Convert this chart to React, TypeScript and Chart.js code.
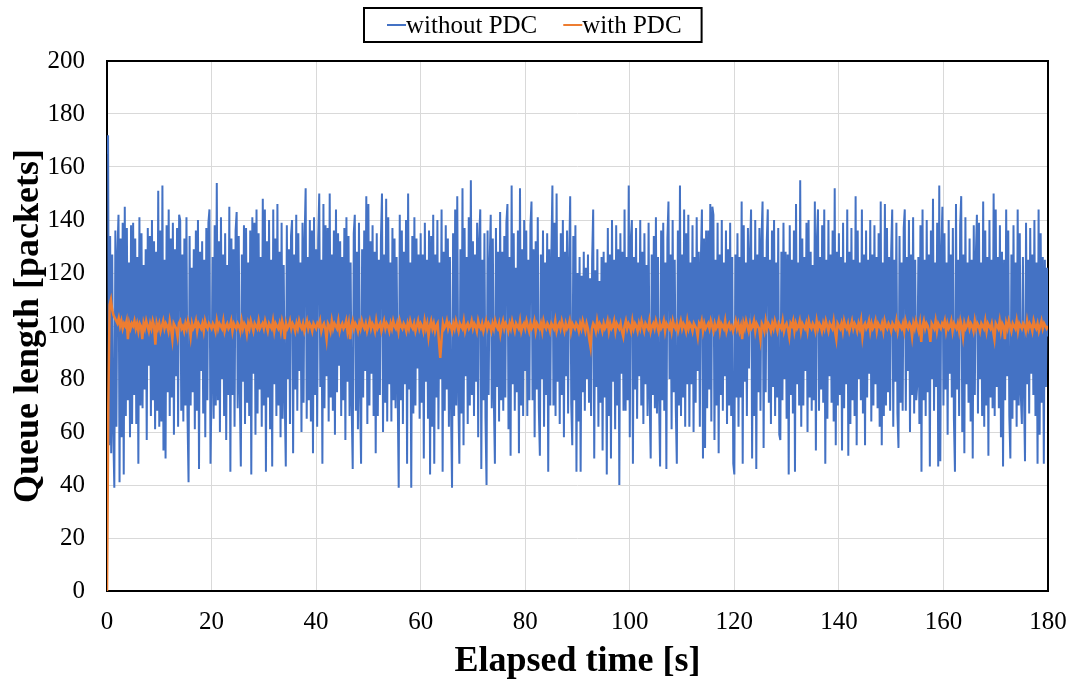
import { useEffect, useRef } from "react";
import { Chart, registerables } from "chart.js";

Chart.register(...registerables);

const FONT = "'Liberation Serif', 'Times New Roman', serif";

// Elapsed time span of the recording [s]
const DURATION = 180;
const X_TICKS = [0, 20, 40, 60, 80, 100, 120, 140, 160, 180];
const Y_TICKS = [0, 20, 40, 60, 80, 100, 120, 140, 160, 180, 200];
const SERIES_NAMES = ["without PDC", "with PDC"];
const SERIES_COLORS = ["#4472C4", "#ED7D31"];

// Queue length without PDC [packets], sampled evenly over 0..180 s
const withoutPDC = [
  165,172,55,134,52,127,60,39,136,62,128,142,41,133,58,139,44,145,66,137,72,124,58,138,63,
  139,74,133,63,126,48,141,70,135,69,123,76,129,57,137,85,134,66,140,72,132,61,128,68,151,
  62,136,64,153,53,125,50,138,75,144,66,133,73,139,59,129,81,137,62,142,140,68,127,64,133,
  70,141,66,41,134,70,122,75,129,61,136,68,140,46,128,83,132,67,125,58,137,72,139,144,48,
  77,126,65,138,70,154,72,132,60,141,80,127,66,135,57,123,74,145,45,133,74,129,62,136,143,
  69,134,75,47,127,79,138,63,137,71,124,66,136,44,141,82,139,59,144,67,135,76,126,62,148,
  70,144,45,132,73,140,61,125,47,144,78,133,66,146,70,128,58,139,65,123,72,47,138,80,129,
  63,134,140,52,127,76,142,68,135,83,124,60,139,71,133,152,65,126,72,140,64,136,52,141,74,
  129,62,133,150,77,125,48,146,69,138,81,137,64,150,73,127,68,136,59,144,75,135,85,132,66,
  126,72,137,57,141,79,134,66,124,70,46,135,142,68,128,61,139,75,48,129,73,136,83,149,63,
  146,70,132,82,138,66,128,52,135,66,125,74,133,150,60,127,71,148,64,141,78,124,64,137,72,
  133,69,126,75,39,142,72,136,63,128,78,140,48,150,76,124,39,134,67,141,70,133,84,127,65,
  135,71,127,50,139,79,125,65,136,44,134,62,142,48,127,73,140,61,124,80,144,45,128,68,138,
  76,133,62,126,70,39,135,66,144,70,149,74,48,129,67,152,55,137,81,126,63,141,70,155,74,
  132,66,127,79,139,58,133,144,46,125,72,135,65,40,136,74,124,142,69,133,72,48,137,77,128,
  64,143,72,128,68,134,73,139,146,61,126,51,153,78,135,68,122,75,136,52,152,70,129,66,140,
  83,136,66,125,72,138,147,72,129,58,132,76,141,69,51,127,80,136,62,124,74,135,45,129,70,
  127,153,70,139,66,150,79,126,63,135,74,140,58,128,81,136,67,124,149,71,55,134,72,138,45,
  120,64,126,45,119,75,128,68,122,80,127,71,118,66,125,144,50,121,77,129,62,117,71,126,53,
  128,73,124,44,137,66,127,50,140,79,125,61,138,70,129,40,135,82,128,68,144,68,126,72,153,
  58,133,140,48,126,76,137,65,124,81,140,70,128,63,135,78,123,66,139,73,50,127,74,134,69,
  141,67,126,72,47,136,72,139,68,124,46,133,147,80,127,61,140,75,125,69,48,136,70,153,66,
  127,73,144,62,135,78,142,62,124,78,138,60,126,71,141,83,128,62,125,144,50,133,54,136,69,
  136,76,146,64,145,142,57,125,70,139,52,127,74,140,68,124,81,136,63,129,70,139,66,126,48,
  44,127,73,135,62,126,73,147,48,138,79,124,66,137,84,128,144,50,125,66,140,46,127,75,137,
  68,133,147,54,126,75,132,144,71,125,63,136,77,140,66,124,73,137,59,57,128,72,139,80,128,
  65,127,44,138,74,125,67,136,45,146,78,124,70,155,62,133,70,126,83,139,60,140,73,128,68,
  123,72,147,53,133,144,68,126,76,138,71,144,48,125,65,140,81,127,71,136,64,152,55,128,70,
  135,74,126,53,139,69,124,78,144,51,128,63,137,72,125,66,149,55,136,80,124,72,144,67,127,
  55,136,73,125,82,140,64,127,70,138,78,126,69,135,62,147,55,124,66,146,70,137,75,126,68,
  128,144,62,125,79,139,67,54,134,71,124,68,137,144,68,126,83,140,60,127,74,141,67,125,72,
  78,126,63,138,45,144,72,125,66,140,75,127,47,136,80,148,68,124,77,139,47,153,49,128,145,
  70,135,76,124,59,140,82,127,73,137,65,45,146,76,125,66,138,149,60,127,52,141,78,124,71,
  133,64,125,50,138,74,127,142,67,139,80,124,66,147,62,136,70,126,51,140,73,125,69,150,66,
  144,77,126,69,138,58,128,47,125,72,144,81,136,66,50,127,65,138,72,124,62,144,70,135,74,
  63,126,75,49,139,78,125,67,137,82,127,74,140,66,124,48,144,59,135,71,126,48,125,77,122,
  96,
];

// Queue length with PDC [packets], sampled evenly over 0..180 s
const withPDC = [
  0,70,108,110,106,104,103,102,101,103,100,102,99,101,100,102,95,101,99,101,
  100,102,99,101,98,101,100,95,101,99,102,100,98,101,99,102,100,93,101,99,
  101,98,100,102,99,101,100,98,102,99,95,101,100,99,96,101,102,99,100,98,
  101,99,102,100,96,101,99,100,102,98,101,100,99,101,98,102,100,99,101,100,
  99,101,100,98,102,99,101,100,99,102,98,100,101,99,100,102,98,101,100,99,
  101,100,98,102,99,101,100,97,101,99,102,100,98,101,100,99,102,99,100,101,
  99,102,100,98,101,100,99,102,98,101,100,99,101,98,102,100,95,101,99,100,
  102,99,101,100,98,101,99,102,100,99,101,98,100,102,99,101,100,98,101,100,
  99,101,100,102,98,100,101,99,95,101,100,98,102,99,101,100,99,102,98,100,
  101,99,100,102,98,101,95,100,102,99,101,100,98,101,99,102,100,99,101,98,
  100,102,99,101,100,98,102,99,100,101,98,100,102,99,101,100,98,101,99,102,
  100,99,101,98,102,100,99,101,100,98,101,99,102,100,99,101,98,100,102,99,
  101,100,98,102,99,101,96,100,102,99,101,98,100,101,94,88,95,101,99,100,
  102,99,101,100,98,101,99,102,100,98,101,100,99,102,98,100,101,99,100,102,
  99,101,100,98,102,100,99,101,98,100,102,99,101,100,98,101,99,102,100,99,
  101,97,100,102,99,101,100,98,101,99,102,100,98,101,100,99,102,98,100,101,
  99,102,100,98,101,99,100,102,98,101,100,99,101,98,102,100,99,101,100,98,
  101,100,99,102,98,100,101,99,102,100,98,101,99,100,102,98,101,100,99,101,
  100,98,101,99,102,100,98,101,99,95,92,99,101,100,98,102,99,101,100,98,
  101,99,100,102,98,101,99,100,102,98,101,100,99,101,98,96,100,102,99,101,
  100,98,102,99,101,100,98,101,99,102,100,98,101,100,99,102,98,100,101,99,
  102,100,98,101,99,100,102,98,101,100,99,101,98,102,100,99,101,98,100,102,
  99,101,100,98,102,99,101,100,98,101,100,99,96,101,100,102,98,101,99,100,
  101,99,102,100,98,101,99,100,102,98,101,100,99,102,98,100,101,99,100,98,
  100,102,99,101,98,100,95,101,99,102,100,98,101,99,100,102,98,101,100,99,
  95,101,100,98,102,99,101,100,98,101,99,102,100,98,101,100,99,102,98,100,
  101,99,96,101,100,102,98,101,99,100,102,98,101,100,99,101,98,102,100,99,
  101,100,98,102,99,101,100,98,101,99,102,100,98,101,100,99,102,98,95,101,
  100,99,101,98,102,100,99,101,98,100,102,99,101,100,98,101,99,102,96,100,
  101,99,100,102,98,101,99,100,102,98,101,100,99,101,98,102,100,99,101,100,
  98,101,100,99,102,98,101,100,99,101,98,102,100,99,101,100,96,101,99,102,
  100,98,101,94,100,102,99,101,100,98,94,101,100,99,102,98,101,100,99,101,
  100,102,98,101,99,100,102,98,101,100,99,101,98,102,100,96,101,99,100,102,
  99,101,100,98,102,99,101,100,98,101,100,99,102,98,101,100,99,101,98,95,
  101,100,99,102,98,101,100,95,101,99,102,100,98,101,100,99,102,98,101,100,
  99,101,100,98,102,99,101,100,98,102,100,99,101,98,100,102,99,101,100,99,
  100,
];

function toPoints(values: number[]) {
  const n = values.length;
  return values.map((y, i) => ({ x: (i * DURATION) / (n - 1), y }));
}

const plotFrame = {
  id: "plotFrame",
  beforeDatasetsDraw(chart: any) {
    const { ctx, chartArea } = chart;
    ctx.save();
    ctx.strokeStyle = "#000000";
    ctx.lineWidth = 2;
    ctx.strokeRect(chartArea.left, chartArea.top, chartArea.right - chartArea.left, chartArea.bottom - chartArea.top);
    ctx.restore();
  },
};

const boxedLegend = {
  id: "boxedLegend",
  afterDraw(chart: any) {
    const ctx = chart.ctx;
    ctx.save();
    ctx.font = `25px ${FONT}`;
    const left = 364;
    const top = 8;
    const height = 34;
    const sampleW = 19;
    const padLeft = 23;
    const itemGap = 26;
    const padRight = 20;
    const cy = top + height / 2;
    let x = left + padLeft;
    const items = chart.data.datasets.map((ds: any) => ({ label: ds.label, color: ds.borderColor }));
    items.forEach((it: any, i: number) => {
      ctx.strokeStyle = it.color;
      ctx.lineWidth = 2;
      ctx.beginPath();
      ctx.moveTo(x, cy);
      ctx.lineTo(x + sampleW, cy);
      ctx.stroke();
      x += sampleW;
      ctx.fillStyle = "#000000";
      ctx.textBaseline = "middle";
      ctx.textAlign = "left";
      ctx.fillText(it.label, x, cy + 1);
      x += ctx.measureText(it.label).width;
      if (i < items.length - 1) x += itemGap;
    });
    const right = x + padRight;
    ctx.strokeStyle = "#000000";
    ctx.lineWidth = 2;
    ctx.strokeRect(left, top, right - left, height);
    ctx.restore();
  },
};

export default function App() {
  const canvasRef = useRef<HTMLCanvasElement | null>(null);

  useEffect(() => {
    if (!canvasRef.current) return;
    const chart = new Chart(canvasRef.current, {
      type: "line",
      data: {
        datasets: [
          {
            label: SERIES_NAMES[0],
            data: toPoints(withoutPDC),
            borderColor: SERIES_COLORS[0],
            backgroundColor: SERIES_COLORS[0],
            borderWidth: 2,
            pointRadius: 0,
            tension: 0,
            order: 2,
          },
          {
            label: SERIES_NAMES[1],
            data: toPoints(withPDC),
            borderColor: SERIES_COLORS[1],
            backgroundColor: SERIES_COLORS[1],
            borderWidth: 2.5,
            pointRadius: 0,
            tension: 0,
            order: 1,
          },
        ],
      },
      options: {
        animation: false,
        responsive: false,
        maintainAspectRatio: false,
        events: [],
        layout: { padding: { top: 61, right: 28, left: 0, bottom: 0 } },
        plugins: {
          legend: { display: false },
          tooltip: { enabled: false },
        },
        scales: {
          x: {
            type: "linear",
            min: 0,
            max: 180,
            afterBuildTicks: (axis: any) => {
              axis.ticks = X_TICKS.map((v) => ({ value: v }));
            },
            afterFit: (axis: any) => {
              axis.height = 92;
              axis.paddingLeft = 0;
              axis.paddingRight = 0;
            },
            ticks: {
              font: { family: FONT, size: 25 },
              color: "#000000",
              padding: 16,
              maxRotation: 0,
              autoSkip: false,
            },
            grid: { color: "#d9d9d9", lineWidth: 1, drawTicks: false },
            border: { display: false },
            title: {
              display: true,
              text: "Elapsed time [s]",
              font: { family: FONT, size: 36, weight: "bold" },
              color: "#000000",
              padding: { top: 0, bottom: 0 },
            },
          },
          y: {
            min: 0,
            max: 200,
            afterBuildTicks: (axis: any) => {
              axis.ticks = Y_TICKS.map((v) => ({ value: v }));
            },
            afterFit: (axis: any) => {
              axis.width = 107;
              axis.paddingTop = 0;
              axis.paddingBottom = 0;
            },
            ticks: {
              font: { family: FONT, size: 25 },
              color: "#000000",
              padding: 22,
              autoSkip: false,
            },
            grid: { color: "#d9d9d9", lineWidth: 1, drawTicks: false },
            border: { display: false },
            title: {
              display: true,
              text: "Queue length [packets]",
              font: { family: FONT, size: 36, weight: "bold" },
              color: "#000000",
              padding: { top: 7, bottom: 0 },
            },
          },
        },
      },
      plugins: [plotFrame, boxedLegend],
    });
    return () => chart.destroy();
  }, []);

  return (
    <div style={{ position: "fixed", left: 0, top: 0, width: 1076, height: 683, background: "#ffffff" }}>
      <canvas ref={canvasRef} width={1076} height={683} />
    </div>
  );
}
